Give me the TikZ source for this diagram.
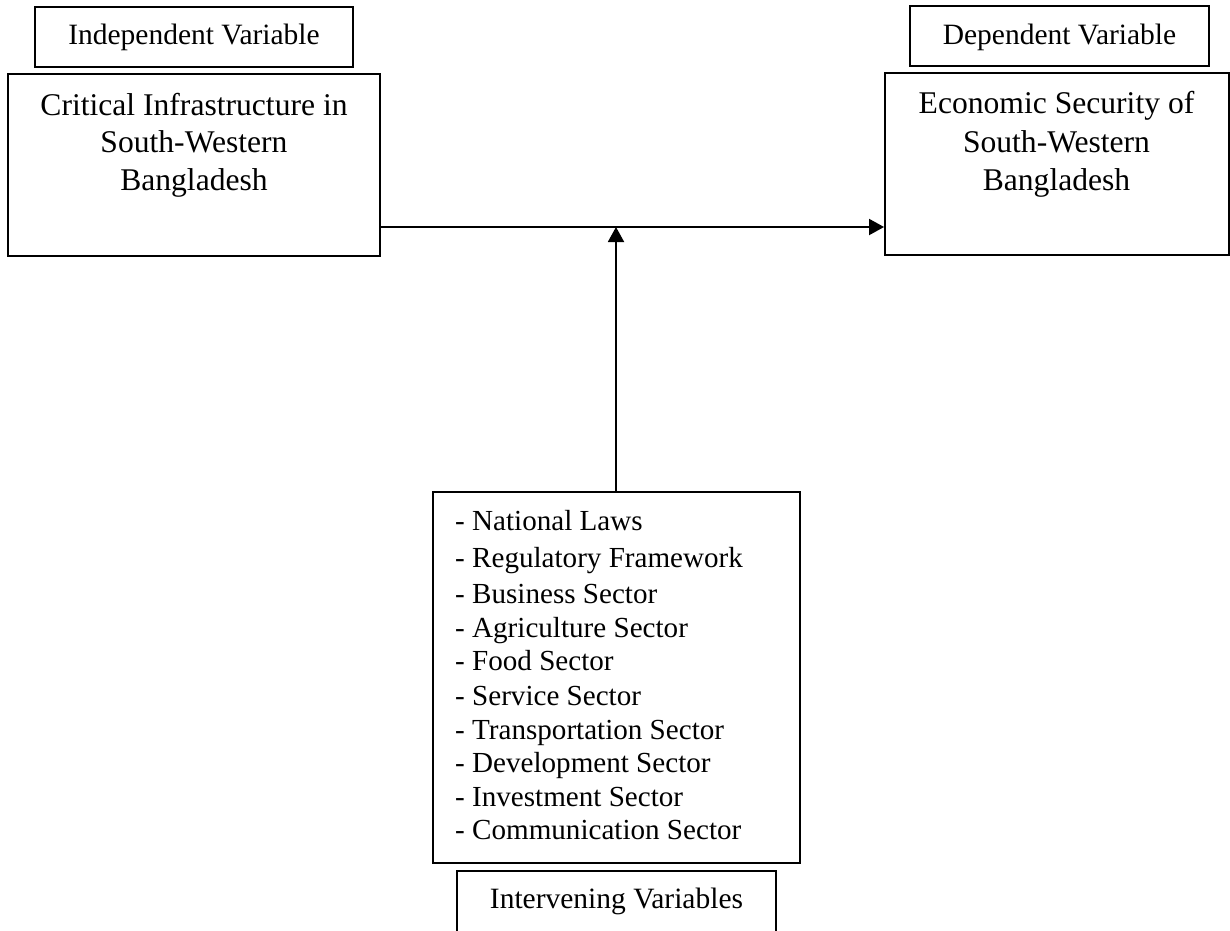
\documentclass[tikz,border=0pt]{standalone}
\usepackage{fontspec}
\setmainfont{Liberation Serif}
\usetikzlibrary{arrows.meta,calc}
\begin{document}
\begin{tikzpicture}[x=1pt,y=-1pt,
  boxline/.style={draw=black,line width=1.9pt,inner sep=0pt},
  maintxt/.style={inner sep=0pt,anchor=base,font=\fontsize{31.6}{37}\selectfont},
  labtxt/.style={inner sep=0pt,anchor=base,font=\fontsize{29.5}{34}\selectfont},
  listtxt/.style={inner sep=0pt,anchor=base west,font=\fontsize{29.1}{34}\selectfont},
  arr/.style={line width=1.9pt,-{Triangle[length=15pt,width=16pt]}}]
\useasboundingbox (0,0) rectangle (1230,930);
% label boxes
\node[boxline,minimum width=318pt,minimum height=60pt] (ivb) at (194,37) {};
\node[labtxt] (ivt) at (194,44) {Independent Variable};
\node[boxline,minimum width=299pt,minimum height=60pt] (dvb) at (1059.5,36) {};
\node[labtxt] (dvt) at (1059.5,44) {Dependent Variable};
% main boxes
\node[boxline,minimum width=372pt,minimum height=182pt] (L) at (194,165) {};
\node[maintxt] (l1) at (194,115) {Critical Infrastructure in};
\node[maintxt] (l2) at (194,152) {South-Western};
\node[maintxt] (l3) at (194,190) {Bangladesh};
\node[boxline,minimum width=344pt,minimum height=182pt] (R) at (1057,164) {};
\node[maintxt] (r1) at (1056.5,113) {Economic Security of};
\node[maintxt] (r2) at (1056.5,152) {South-Western};
\node[maintxt] (r3) at (1056.5,190) {Bangladesh};
% bottom box
\node[boxline,minimum width=367pt,minimum height=371pt] (B) at (616.5,677.5) {};
\node[listtxt] (b1) at (455,530) {- National Laws};
\node[listtxt] (b2) at (455,567) {- Regulatory Framework};
\node[listtxt] (b3) at (455,603) {- Business Sector};
\node[listtxt] (b4) at (455,637) {- Agriculture Sector};
\node[listtxt] (b5) at (455,670) {- Food Sector};
\node[listtxt] (b6) at (455,705) {- Service Sector};
\node[listtxt] (b7) at (455,739) {- Transportation Sector};
\node[listtxt] (b8) at (455,772) {- Development Sector};
\node[listtxt] (b9) at (455,806) {- Investment Sector};
\node[listtxt] (b10) at (455,839) {- Communication Sector};
\node[boxline,minimum width=319pt,minimum height=80pt] (ivs) at (616.5,911) {};
\node[labtxt] (ivst) at (616.5,908) {Intervening Variables};
% connectors
\coordinate (junc) at (616,227);
\draw[arr] (L.east |- junc) -- (R.west |- junc);
\draw[arr] (B.north -| junc) -- (junc);
\end{tikzpicture}
\end{document}
